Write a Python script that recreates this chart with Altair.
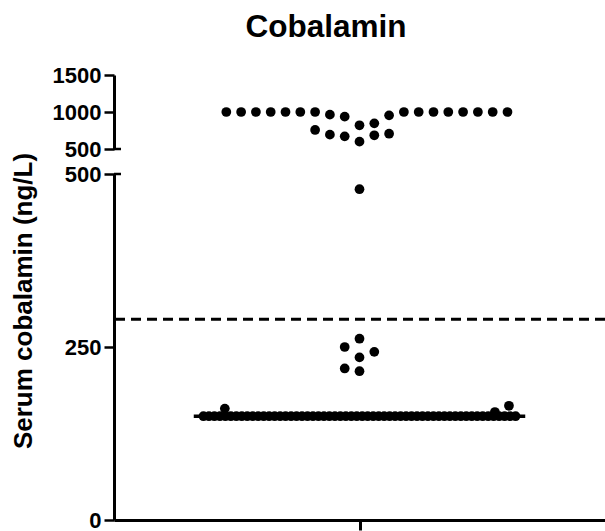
import altair as alt
import pandas as pd

# ---------------- data ----------------
# Upper segment (500-1500): horizontal slot (beeswarm column) and value
top_slots = [-9, -8, -7, -6, -5, -4, -3, 3, 4, 5, 6, 7, 8, 9, 10,
             -2, -1, 2, 0, 1, -3, -2, -1, 0, 1, 2]
top_values = [1000, 1000, 1000, 1000, 1000, 1000, 1000, 1000, 1000, 1000,
              1000, 1000, 1000, 1000, 1000,
              964, 937, 955, 820, 847, 757, 694, 671, 599, 685, 707]

# Lower segment (0-500)
low_slots = [0, 0, -1, 1, 0, -1, 0, -9.1, 10.1, 9.15]
low_values = [478, 262, 250, 243, 235, 219, 215, 161, 165, 156]

# Many results at the assay floor (150 ng/L)
floor_count = 58
floor_value = 150
floor_values = [floor_value] * floor_count

median_value = 150
cutoff_value = 290

top_ticks = [500, 1000, 1500]
low_ticks = [0, 250, 500]

# ---------------- layout ----------------
W, H = 491, 445
FONT = "Liberation Sans"
floor_step = 0.37
floor_slots = [(i - (floor_count - 1) / 2) * floor_step for i in range(floor_count)]

top_df = pd.DataFrame({"slot": top_slots, "value": top_values})
low_df = pd.DataFrame({"slot": low_slots + floor_slots,
                       "value": low_values + floor_values})
median_df = pd.DataFrame({"x1": [-11.2], "x2": [11.2], "value": [median_value]})
cutoff_df = pd.DataFrame({"value": [cutoff_value]})
brk_df = pd.DataFrame({"value": [500]})

top_scale = alt.Scale(domain=[500, 1500], range=[74, 0], nice=False, zero=False)
low_scale = alt.Scale(domain=[0, 500], range=[445, 99], nice=False, zero=False)
x_scale = alt.Scale(domain=[-16.59, 16.59], nice=False, zero=False)

x_axis = alt.Axis(values=[0], labels=False, title=None, tickSize=10, tickWidth=3,
                  domainWidth=3, domainColor="black", tickColor="black", grid=False)
X = alt.X("slot:Q", scale=x_scale, axis=x_axis)


def yaxis(vals):
    return alt.Axis(values=vals, title=None, orient="left", grid=False, format="d",
                    domainWidth=3, domainColor="black", tickColor="black",
                    tickWidth=2.5, tickSize=10, labelPadding=3,
                    labelFont=FONT, labelFontWeight="bold", labelFontSize=22,
                    labelColor="black", labelFlush=False, labelOverlap=False)


DOT = 95

top_dots = alt.Chart(top_df).mark_circle(size=DOT, color="black", opacity=1).encode(
    x=X, y=alt.Y("value:Q", scale=top_scale, axis=yaxis(top_ticks)))

low_dots = alt.Chart(low_df).mark_circle(size=DOT, color="black", opacity=1).encode(
    x=X, y=alt.Y("value:Q", scale=low_scale, axis=yaxis(low_ticks)))

median = alt.Chart(median_df).mark_rule(color="black", strokeWidth=3.5).encode(
    x=alt.X("x1:Q", scale=x_scale, axis=x_axis), x2="x2:Q",
    y=alt.Y("value:Q", scale=low_scale, axis=None))

cutoff = alt.Chart(cutoff_df).mark_rule(color="black", strokeWidth=3,
                                        strokeDash=[10, 6]).encode(
    y=alt.Y("value:Q", scale=low_scale, axis=None))

brk_top = alt.Chart(brk_df).mark_rule(color="black", strokeWidth=2.5).encode(
    x=alt.value(0), x2=alt.value(7),
    y=alt.Y("value:Q", scale=top_scale, axis=None))
brk_low = alt.Chart(brk_df).mark_rule(color="black", strokeWidth=2.5).encode(
    x=alt.value(0), x2=alt.value(7),
    y=alt.Y("value:Q", scale=low_scale, axis=None))

title = alt.Chart(pd.DataFrame({"t": ["Cobalamin"]})).mark_text(
    font=FONT, fontSize=31.5, fontWeight="bold", color="black",
    align="center", baseline="alphabetic").encode(
    text="t:N", x=alt.value(212), y=alt.value(-38.3))

ytitle = alt.Chart(pd.DataFrame({"t": ["Serum cobalamin (ng/L)"]})).mark_text(
    font=FONT, fontSize=26, fontWeight="bold", color="black", angle=270,
    align="center", baseline="alphabetic").encode(
    text="t:N", x=alt.value(-82.5), y=alt.value(226))

chart = alt.layer(top_dots, low_dots, median, cutoff, brk_top, brk_low, title, ytitle
                  ).resolve_scale(y="independent").properties(
    width=W, height=H,
    autosize=alt.AutoSizeParams(type="none"),
    padding={"left": 114, "top": 75, "right": 0, "bottom": 11},
    background="white",
).configure_view(stroke=None)

chart.save("out.html", embed_options={"renderer": "svg", "actions": False})
